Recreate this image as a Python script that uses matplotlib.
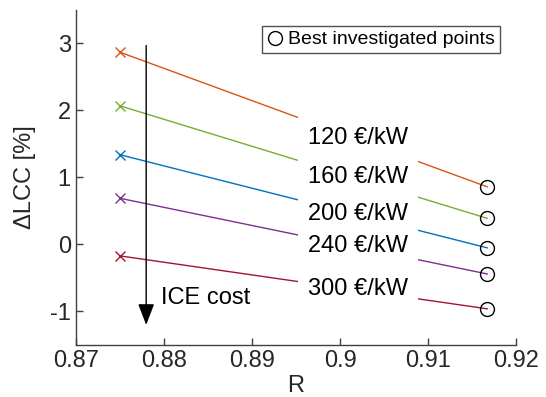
import matplotlib
matplotlib.use('Agg')
import matplotlib.pyplot as plt

plt.rcParams['font.family'] = ['Liberation Sans', 'DejaVu Sans']

# data
r_start = 0.875
r_best = 0.9167
labels = ['120 €/kW', '160 €/kW', '200 €/kW', '240 €/kW', '300 €/kW']
lcc_start = [2.87, 2.07, 1.34, 0.69, -0.17]
lcc_best = [0.86, 0.39, -0.05, -0.44, -0.96]
label_x = 0.8964
label_y = [1.59, 1.00, 0.46, -0.02, -0.67]
colors = ['#D95319', '#77AC30', '#0072BD', '#7E2F8E', '#A2142F']

arrow_x = 0.878
arrow_top = 2.97
arrow_tip = -1.20

axis_color = '#404040'

fig = plt.figure(figsize=(5.46, 3.97), dpi=100)
ax = fig.add_axes([0.1386, 0.131, 0.807, 0.844])

for s, b, c in zip(lcc_start, lcc_best, colors):
    ax.plot([r_start, r_best], [s, b], color=c, lw=1.0, zorder=2)
    ax.plot([r_start], [s], marker='x', color=c, ms=7, mew=1.0, ls='none', zorder=3)

ax.plot([r_best] * len(lcc_best), lcc_best, ls='none', marker='o', ms=10,
        mfc='none', mec='black', mew=1.0, zorder=4, label='Best investigated points')

for lab, y in zip(labels, label_y):
    ax.text(label_x, y, lab, fontsize=17, ha='left', va='center', zorder=3,
            bbox=dict(boxstyle='square,pad=0.42', fc='white', ec='none'))

ax.annotate('', xy=(arrow_x, arrow_tip), xytext=(arrow_x, arrow_top),
            arrowprops=dict(arrowstyle='-|>,head_length=1.3,head_width=0.5',
                            color='black', lw=1.0, shrinkA=0, shrinkB=0), zorder=5)
ax.text(0.8797, -0.80, 'ICE cost', fontsize=17, ha='left', va='center')

ax.set_xlim(0.87, 0.92)
ax.set_ylim(-1.5, 3.5)
ax.set_xticks([0.87, 0.88, 0.89, 0.9, 0.91, 0.92])
ax.set_xticklabels(['0.87', '0.88', '0.89', '0.9', '0.91', '0.92'])
ax.set_yticks([-1, 0, 1, 2, 3])
ax.set_yticklabels(['-1', '0', '1', '2', '3'])

for side in ['top', 'right']:
    ax.spines[side].set_visible(False)
for side in ['left', 'bottom']:
    ax.spines[side].set_color(axis_color)
    ax.spines[side].set_linewidth(1.0)
ax.tick_params(direction='in', length=5, width=1.0, colors=axis_color,
               labelcolor='#262626', labelsize=17)

ax.set_xlabel('R', fontsize=17, color='#262626', labelpad=2)
ax.set_ylabel('ΔLCC [%]', fontsize=17, color='#262626', labelpad=10)

leg = ax.legend(loc='upper right', bbox_to_anchor=(0.963, 0.952), fontsize=14,
                frameon=True, fancybox=False, handlelength=0.8, handletextpad=0.3,
                borderpad=0.25, borderaxespad=0)
leg.get_frame().set_edgecolor('#262626')
leg.get_frame().set_linewidth(1.0)

fig.savefig('out.png', dpi=100)
